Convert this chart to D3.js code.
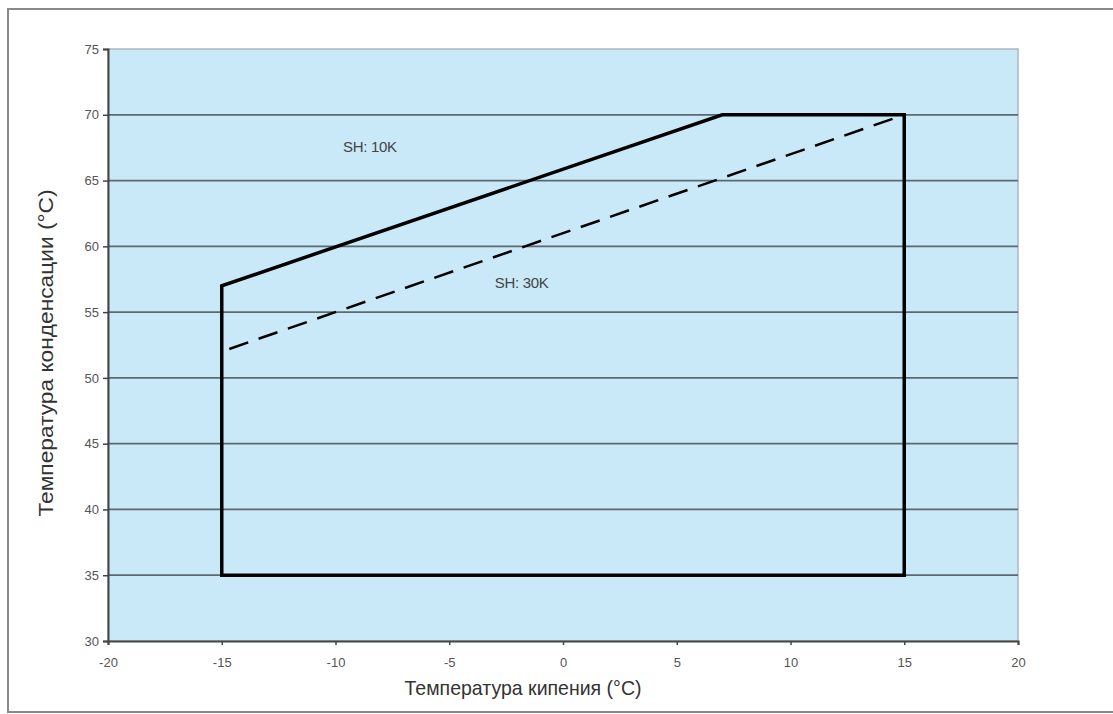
<!DOCTYPE html>
<html>
<head>
<meta charset="utf-8">
<script src="https://cdn.jsdelivr.net/npm/d3@7"></script>
<style>
  body { margin: 0; background: #fff; }
  svg { display: block; }
</style>
</head>
<body>
<div class="chart"></div>
<script>
// envelope of the compressor (evaporating vs condensing temperature)
const envelopeX = [-15, -15, 7, 15, 15];
const envelopeY = [35, 57, 70, 70, 35];
// SH 30K boundary
const dashedX = [-15, 15];
const dashedY = [52, 70];
const xTicks = [-20, -15, -10, -5, 0, 5, 10, 15, 20];
const yTicks = [30, 35, 40, 45, 50, 55, 60, 65, 70, 75];
const labels = ['SH: 10K', 'SH: 30K'];
const labelX = [-9.67, -3.0];
const labelY = [67.2, 56.8];

const width = 1113;
const height = 714;
const margin = {left: 108, top: 49, right: 95, bottom: 73};

const svg = d3.select('.chart')
    .append('svg')
    .attr('width', width)
    .attr('height', height);

// outer frame
svg.append('rect')
    .attr('x', 8)
    .attr('y', 9)
    .attr('width', width + 20)
    .attr('height', height - 11)
    .attr('fill', 'none')
    .attr('stroke', '#8a8a8a')
    .attr('stroke-width', 2);

const x = d3.scaleLinear().domain([-20, 20]).range([margin.left, width - margin.right]);
const y = d3.scaleLinear().domain([30, 75]).range([height - margin.bottom, margin.top]);

// plot background
svg.append('rect')
    .attr('x', x(-20))
    .attr('y', y(75))
    .attr('width', x(20) - x(-20))
    .attr('height', y(30) - y(75))
    .attr('fill', '#c9e9f9')
    .attr('stroke', '#a8b8c0')
    .attr('stroke-width', 1.5);

// grid lines
svg.selectAll('.grid')
    .data(yTicks.filter(d => d > 30 && d < 75))
    .enter()
    .append('line')
    .attr('class', 'grid')
    .attr('x1', x(-20))
    .attr('x2', x(20))
    .attr('y1', d => y(d))
    .attr('y2', d => y(d))
    .attr('stroke', '#5a6a70')
    .attr('stroke-width', 1.8);

// axes
const xAxis = svg.append('g')
    .attr('transform', `translate(0,${y(30)})`)
    .call(d3.axisBottom(x).tickValues(xTicks).tickFormat(d => String(d)).tickSize(4).tickPadding(13));
const yAxis = svg.append('g')
    .attr('transform', `translate(${x(-20)},0)`)
    .call(d3.axisLeft(y).tickValues(yTicks).tickFormat(d => String(d)).tickSize(5).tickPadding(4));

[xAxis, yAxis].forEach(g => {
    g.select('.domain').attr('stroke', '#444').attr('stroke-width', 2);
    g.selectAll('.tick line').attr('stroke', '#444').attr('stroke-width', 1.5);
    g.selectAll('.tick text')
        .attr('fill', '#555')
        .attr('font-family', '"Liberation Sans", sans-serif')
        .attr('font-size', '13px');
});

// envelope
const line = d3.line().x(d => x(d[0])).y(d => y(d[1]));
svg.append('path')
    .attr('d', line(envelopeX.map((v, i) => [v, envelopeY[i]])) + 'Z')
    .attr('fill', 'none')
    .attr('stroke', '#000')
    .attr('stroke-width', 3.5)
    .attr('stroke-linejoin', 'miter');

svg.append('path')
    .attr('d', line(dashedX.map((v, i) => [v, dashedY[i]])))
    .attr('fill', 'none')
    .attr('stroke', '#000')
    .attr('stroke-width', 2.5)
    .attr('stroke-dasharray', '20,11')
    .attr('stroke-dashoffset', 23);

// SH labels
svg.selectAll('.sh-label')
    .data(labels)
    .enter()
    .append('text')
    .attr('class', 'sh-label')
    .text(d => d)
    .attr('x', (d, i) => x(labelX[i]))
    .attr('y', (d, i) => y(labelY[i]))
    .attr('font-family', '"Liberation Sans", sans-serif')
    .attr('font-size', '15px')
    .attr('letter-spacing', '-0.3px')
    .attr('fill', '#444');

// axis titles
svg.append('text')
    .text('Температура кипения (°C)')
    .attr('x', 523)
    .attr('y', 695)
    .attr('text-anchor', 'middle')
    .attr('textLength', 237)
    .attr('lengthAdjust', 'spacingAndGlyphs')
    .attr('font-family', '"Liberation Sans", Arial, sans-serif')
    .attr('font-size', '21px')
    .attr('fill', '#333');

svg.append('text')
    .text('Температура конденсации (°C)')
    .attr('transform', `translate(53,353) rotate(-90)`)
    .attr('text-anchor', 'middle')
    .attr('textLength', 327)
    .attr('lengthAdjust', 'spacingAndGlyphs')
    .attr('font-family', '"Liberation Sans", Arial, sans-serif')
    .attr('font-size', '21px')
    .attr('fill', '#333');
</script>
</body>
</html>
